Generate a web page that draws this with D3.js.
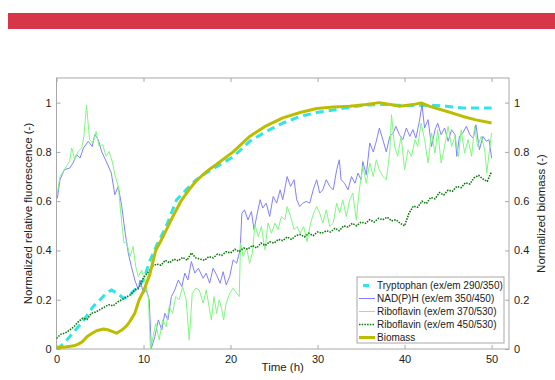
<!DOCTYPE html>
<html>
<head>
<meta charset="utf-8">
<script src="https://cdn.jsdelivr.net/npm/d3@7"></script>
<style>
  html, body { margin: 0; padding: 0; background: #fff; }
  svg { display: block; font-family: "Liberation Sans", Arial, sans-serif; }
</style>
</head>
<body>
<svg id="chart" width="555" height="380"></svg>
<script>
// ---- data ---------------------------------------------------------------
const seriesNames = [
  "Tryptophan (ex/em 290/350)",
  "NAD(P)H (ex/em 350/450)",
  "Riboflavin (ex/em 370/530)",
  "Riboflavin (ex/em 450/530)",
  "Biomass"
];
const xTicks = [0, 10, 20, 30, 40, 50];
const yTicks = [0, 0.2, 0.4, 0.6, 0.8, 1];

const tryptophanTime = [0,0.5,1.2,2,2.7,3.5,4.2,5,5.7,6.3,7,7.7,8.3,9.2,10,10.7,11.5,12.6,13.8,14.9,16,17.2,18.4,20.3,22.2,24.1,26,28,29.9,31.8,33.7,35.6,37.5,39,41,42.9,44.8,46.7,48.5,50];
const tryptophanValue = [0,0.012,0.037,0.07,0.098,0.135,0.172,0.2,0.225,0.24,0.225,0.206,0.215,0.247,0.28,0.355,0.42,0.497,0.606,0.646,0.685,0.715,0.74,0.78,0.843,0.883,0.917,0.944,0.96,0.97,0.982,0.99,0.993,0.99,0.988,0.99,0.985,0.978,0.978,0.978];

const nadhTime = [0.1,0.4,0.9,1.5,1.9,2.3,2.7,3.1,3.65,4.1,4.4,4.8,5.2,5.8,6.3,6.7,7.1,7.5,7.9,8.25,8.6,9,9.4,9.6,10,10.3,10.65,10.9,11.3,11.7,12.1,12.45,12.8,13.2,13.6,14,14.4,14.75,15.1,15.5,15.9,16.3,16.85,17.2,17.6,18,18.4,18.8,19.15,19.5,19.9,20.3,20.7,21.1,21.3,21.6,22,22.4,22.7,23,23.4,23.7,24.1,24.5,24.9,25.3,25.7,26,26.5,26.9,27.3,27.6,27.95,28.3,28.7,29.1,29.5,29.9,30.25,30.6,31,31.4,31.8,32.2,32.5,32.7,33.1,33.5,33.9,34.3,34.65,35,35.2,35.6,36,36.4,36.75,37.1,37.5,37.9,38.3,38.7,39,39.4,39.8,40.2,40.6,40.96,41.3,41.7,42,42.3,42.7,43.1,43.5,43.8,44.2,44.6,45,45.4,45.8,46,46.3,46.7,47.1,47.5,47.9,48.2,48.6,49,49.4,49.7,50];
const nadhValue = [0.612,0.687,0.728,0.734,0.755,0.789,0.775,0.816,0.843,0.822,0.87,0.85,0.8,0.755,0.714,0.626,0.66,0.578,0.47,0.389,0.335,0.28,0.24,0.28,0.226,0.24,0.2,0.003,0.05,0.118,0.077,0.145,0.118,0.213,0.24,0.28,0.253,0.308,0.28,0.355,0.308,0.328,0.287,0.308,0.267,0.328,0.3,0.267,0.314,0.26,0.294,0.362,0.348,0.402,0.55,0.565,0.524,0.558,0.484,0.538,0.606,0.572,0.592,0.538,0.619,0.592,0.646,0.606,0.7,0.66,0.687,0.606,0.578,0.592,0.599,0.592,0.646,0.687,0.633,0.646,0.687,0.66,0.646,0.728,0.768,0.687,0.673,0.646,0.7,0.673,0.714,0.687,0.761,0.707,0.836,0.8,0.843,0.897,0.85,0.8,0.863,0.877,0.904,0.87,0.85,0.897,0.863,0.89,0.856,0.924,0.992,0.897,0.931,0.822,0.89,0.917,0.87,0.897,0.843,0.89,0.87,0.782,0.863,0.877,0.904,0.87,0.856,0.91,0.809,0.863,0.843,0.85,0.775];

const ribo370Time = [0.1,0.4,0.9,1.5,1.75,2.1,2.5,2.9,3.15,3.45,3.8,4.15,4.55,4.9,5.3,5.7,6.05,6.45,6.7,7.1,7.5,7.75,8.05,8.45,8.8,9.1,9.4,9.8,10.2,10.55,10.8,11.1,11.4,11.8,12.2,12.6,12.95,13.35,13.7,14.1,14.5,14.9,15.25,15.6,16,16.4,16.85,17.2,17.6,17.8,18.1,18.4,18.7,19,19.2,19.5,19.9,20.3,20.7,21,21.15,21.45,21.85,22.2,22.5,22.8,23.2,23.55,23.95,24.3,24.7,25.1,25.45,25.85,26.25,26.5,26.9,27.3,27.65,28,28.4,28.8,29.2,29.55,29.9,30.25,30.6,31,31.4,31.8,32.2,32.55,32.9,33.3,33.7,34.05,34.45,34.8,35.2,35.6,36,36.4,36.75,37.1,37.5,37.9,38.3,38.5,38.85,39.2,39.6,40,40.4,40.8,41.2,41.5,41.9,42.3,42.7,43.1,43.5,43.8,44.2,44.6,45,45.4,45.8,46.2,46.5,46.9,47.3,47.7,48.05,48.4,48.8,49.2,49.45,49.8,50];
const ribo370Value = [0.633,0.7,0.728,0.761,0.816,0.768,0.802,0.816,0.863,0.99,0.85,0.836,0.883,0.822,0.829,0.782,0.802,0.755,0.707,0.66,0.511,0.43,0.436,0.375,0.416,0.335,0.294,0.32,0.267,0.213,0,0.05,0.104,0.037,0.118,0.091,0.172,0.145,0.213,0.2,0.253,0.2,0.037,0.226,0.247,0.24,0.186,0.24,0.159,0.118,0.213,0.145,0.2,0.159,0.118,0.186,0.226,0.247,0.226,0.213,0.43,0.375,0.41,0.348,0.389,0.504,0.456,0.497,0.402,0.511,0.47,0.511,0.484,0.538,0.524,0.578,0.538,0.484,0.497,0.47,0.497,0.436,0.511,0.552,0.578,0.552,0.511,0.565,0.497,0.511,0.592,0.552,0.606,0.538,0.606,0.633,0.524,0.646,0.741,0.673,0.755,0.7,0.768,0.728,0.7,0.687,0.8,0.951,0.822,0.782,0.863,0.728,0.809,0.782,0.85,0.822,0.917,0.85,0.755,0.877,0.795,0.89,0.755,0.822,0.904,0.822,0.863,0.782,0.89,0.795,0.85,0.782,0.904,0.822,0.863,0.809,0.714,0.822,0.877];

const ribo450Time = [0,0.5,1,1.5,2,2.5,3,3.5,4,4.5,5,5.5,6,6.5,7,7.5,8,8.5,9,9.5,10,10.5,11,11.5,12,12.5,13,13.5,14,14.5,15,15.5,16,16.5,17,17.5,18,18.5,19,19.5,20,20.5,21,21.5,22,22.5,23,23.5,24,24.5,25,25.5,26,26.5,27,27.5,28,28.5,29,29.5,30,30.5,31,31.5,32,32.5,33,33.5,34,34.5,35,35.5,36,36.5,37,37.5,38,38.5,39,39.5,40,40.5,41,41.5,42,42.5,43,43.5,44,44.5,45,45.5,46,46.5,47,47.5,48,48.5,49,49.5,50];
const ribo450Value = [0.043,0.06,0.065,0.077,0.09,0.11,0.125,0.12,0.145,0.15,0.16,0.17,0.18,0.175,0.19,0.2,0.21,0.22,0.24,0.25,0.29,0.31,0.335,0.345,0.34,0.36,0.35,0.365,0.358,0.372,0.36,0.39,0.37,0.365,0.36,0.375,0.37,0.385,0.38,0.395,0.39,0.405,0.395,0.41,0.405,0.42,0.41,0.43,0.42,0.435,0.43,0.445,0.44,0.455,0.445,0.46,0.465,0.455,0.47,0.46,0.475,0.47,0.48,0.475,0.49,0.48,0.5,0.495,0.51,0.5,0.515,0.51,0.525,0.515,0.53,0.525,0.535,0.52,0.525,0.51,0.5,0.55,0.58,0.575,0.6,0.59,0.615,0.61,0.635,0.625,0.645,0.64,0.66,0.655,0.675,0.67,0.695,0.705,0.69,0.68,0.72];

const biomassTime = [0,1,2,2.5,3,3.5,4,4.6,5.4,6,6.9,7.5,8,8.4,9,9.5,10,10.7,11.4,12.3,13.4,14.3,15.2,16,16.9,17.6,18.4,20.3,22.2,24.1,26,28,29.9,31.8,33.7,35.6,37.1,38.7,39.4,41,41.9,42.9,44.8,46.7,48.2,50];
const biomassValue = [0.005,0.008,0.013,0.02,0.03,0.05,0.062,0.074,0.081,0.077,0.064,0.077,0.092,0.11,0.145,0.2,0.235,0.3,0.4,0.46,0.54,0.6,0.645,0.68,0.71,0.73,0.75,0.8,0.863,0.906,0.938,0.96,0.976,0.982,0.985,0.992,1.0,0.99,0.985,0.992,0.999,0.985,0.965,0.944,0.93,0.917];

// ---- layout -------------------------------------------------------------
const svg = d3.select("#chart");
const plot = { left: 56.5, right: 509, top: 78, bottom: 349 };
const x = d3.scaleLinear().domain([0, 52]).range([plot.left, plot.right]);
const yLeft = d3.scaleLinear().domain([0, 1.1]).range([plot.bottom, plot.top]);
const yRight = d3.scaleLinear().domain([0, 1.1]).range([plot.bottom, plot.top]);
const axisColor = "#a8a8a8";
const textColor = "#222";
const tickFmt = d => (d === 0 || d === 1) ? d3.format("d")(d) : d3.format(".1f")(d);

// banner stripe
svg.append("rect").attr("x", 8).attr("y", 13).attr("width", 547).attr("height", 16).attr("fill", "#d73649");

// frame
svg.append("rect")
  .attr("x", plot.left).attr("y", plot.top)
  .attr("width", plot.right - plot.left).attr("height", plot.bottom - plot.top)
  .attr("fill", "none").attr("stroke", axisColor).attr("stroke-width", 1);

function styleAxis(g) {
  g.select(".domain").remove();
  g.selectAll(".tick line").attr("stroke", axisColor);
  g.selectAll(".tick text").attr("fill", textColor).style("font-size", "11px")
    .style("font-family", "'Liberation Sans', Arial, sans-serif");
}

// bottom axis (ticks inward)
svg.append("g").attr("transform", `translate(0,${plot.bottom})`)
  .call(d3.axisBottom(x).tickValues(xTicks).tickSizeInner(-4).tickSizeOuter(0).tickPadding(6).tickFormat(d3.format("d")))
  .call(styleAxis);
// top axis ticks only
svg.append("g").attr("transform", `translate(0,${plot.top})`)
  .call(d3.axisTop(x).tickValues(xTicks).tickSizeInner(-4).tickSizeOuter(0).tickFormat(""))
  .call(styleAxis);
// left axis
svg.append("g").attr("transform", `translate(${plot.left},0)`)
  .call(d3.axisLeft(yLeft).tickValues(yTicks).tickSizeInner(-4).tickSizeOuter(0).tickPadding(5).tickFormat(tickFmt))
  .call(styleAxis);
// right axis
svg.append("g").attr("transform", `translate(${plot.right},0)`)
  .call(d3.axisRight(yRight).tickValues(yTicks).tickSizeInner(-4).tickSizeOuter(0).tickPadding(5).tickFormat(tickFmt))
  .call(styleAxis);

// axis titles
svg.append("text").attr("x", (plot.left + plot.right) / 2).attr("y", 371)
  .attr("text-anchor", "middle").attr("fill", textColor).style("font-size", "11.5px").text("Time (h)");
svg.append("text").attr("transform", `translate(32,${(plot.top + plot.bottom) / 2}) rotate(-90)`)
  .attr("text-anchor", "middle").attr("fill", textColor).style("font-size", "11.5px").text("Normalized relative fluorescence (-)");
svg.append("text").attr("transform", `translate(545,${(plot.top + plot.bottom) / 2}) rotate(-90)`)
  .attr("text-anchor", "middle").attr("fill", textColor).style("font-size", "11.5px").text("Normalized biomass (-)");

// ---- series -------------------------------------------------------------
const styles = [
  { color: "#2ee6ea", width: 3, dash: "8,5" },
  { color: "#8080ff", width: 1, dash: null },
  { color: "#7ff77f", width: 1, dash: null },
  { color: "#0a7a0a", width: 1.6, dash: "1.5,1.2" },
  { color: "#bdbd00", width: 3, dash: null }
];
const seriesData = [
  { t: tryptophanTime, v: tryptophanValue, y: yLeft },
  { t: nadhTime, v: nadhValue, y: yLeft },
  { t: ribo370Time, v: ribo370Value, y: yLeft },
  { t: ribo450Time, v: ribo450Value, y: yLeft },
  { t: biomassTime, v: biomassValue, y: yRight }
];

svg.append("clipPath").attr("id", "plotClip").append("rect")
  .attr("x", plot.left).attr("y", plot.top)
  .attr("width", plot.right - plot.left).attr("height", plot.bottom - plot.top);
const marks = svg.append("g").attr("clip-path", "url(#plotClip)");

seriesData.forEach((s, i) => {
  const pts = s.t.map((t, k) => [t, s.v[k]]);
  const line = d3.line().x(d => x(d[0])).y(d => s.y(d[1]));
  marks.append("path").datum(pts)
    .attr("d", line)
    .attr("fill", "none")
    .attr("stroke", styles[i].color)
    .attr("stroke-width", styles[i].width)
    .attr("stroke-linejoin", "round")
    .attr("stroke-dasharray", styles[i].dash);
});

// ---- legend -------------------------------------------------------------
const lg = svg.append("g");
lg.append("rect").attr("x", 357).attr("y", 277).attr("width", 147).attr("height", 66)
  .attr("fill", "#fff").attr("stroke", axisColor);
seriesNames.forEach((name, i) => {
  const yy = 285.5 + i * 13;
  lg.append("line").attr("x1", 359).attr("x2", 375).attr("y1", yy).attr("y2", yy)
    .attr("stroke", styles[i].color).attr("stroke-width", styles[i].width)
    .attr("stroke-dasharray", i === 0 ? "0,4,6,6" : styles[i].dash);
  lg.append("text").attr("x", 377).attr("y", yy).attr("dy", "0.35em")
    .attr("fill", textColor).style("font-size", "10px").text(name);
});
</script>
</body>
</html>
